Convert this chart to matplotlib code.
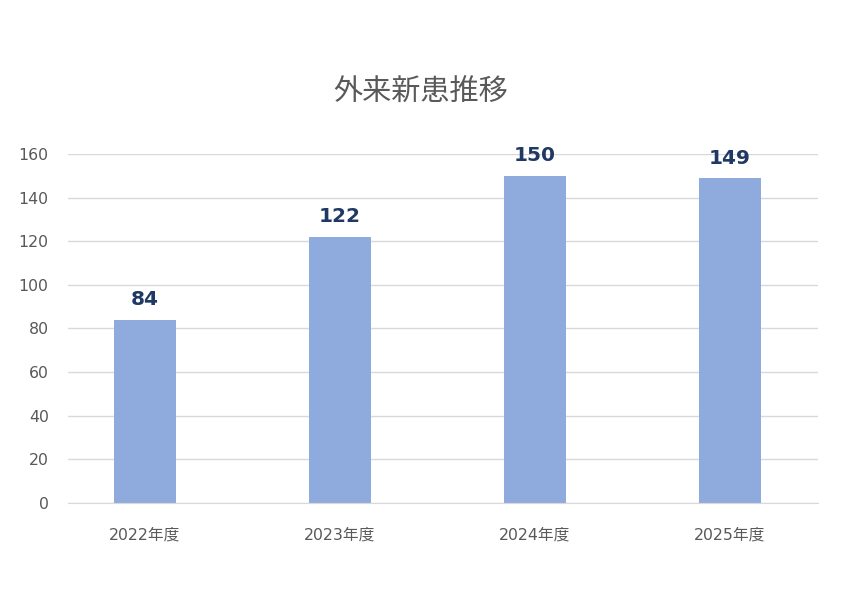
import matplotlib
import matplotlib.pyplot as plt
matplotlib.use('Agg')

plt.rcParams['font.family'] = ['DejaVu Sans', 'Noto Sans CJK JP']

categories = ['2022年度', '2023年度', '2024年度', '2025年度']
values = [84, 122, 150, 149]
yticks = [0, 20, 40, 60, 80, 100, 120, 140, 160]
title = '外来新患推移'

fig = plt.figure(figsize=(8.42, 5.95), dpi=100)
ax = fig.add_axes([0.0808, 0.1546, 0.8907, 0.5866])

x = list(range(len(categories)))
ax.bar(x, values, width=0.318, color='#8FAADC', zorder=2)

for xi, v in zip(x, values):
    ax.annotate(str(v), (xi, v), xytext=(0, 7.5), textcoords='offset points',
                ha='center', va='bottom', fontsize=14.5, fontweight='bold',
                color='#1F3864')

ax.set_xlim(-0.395, 3.451)
ax.set_ylim(0, 160)
ax.set_yticks(yticks)
ax.set_xticks(x)
ax.set_xticklabels(categories)
ax.grid(axis='y', color='#D9D9D9', linewidth=1, zorder=0)
ax.tick_params(axis='both', length=0, labelsize=11.3, colors='#595959', pad=14)
ax.tick_params(axis='x', pad=18)
for side in ['top', 'right', 'left']:
    ax.spines[side].set_visible(False)
ax.spines['bottom'].set_color('#D9D9D9')

fig.text(0.5, 0.844, title, ha='center', va='center', fontsize=21,
         color='#595959', family=['Noto Sans CJK JP', 'DejaVu Sans'])

fig.savefig('out.png', dpi=100)
plt.close(fig)
